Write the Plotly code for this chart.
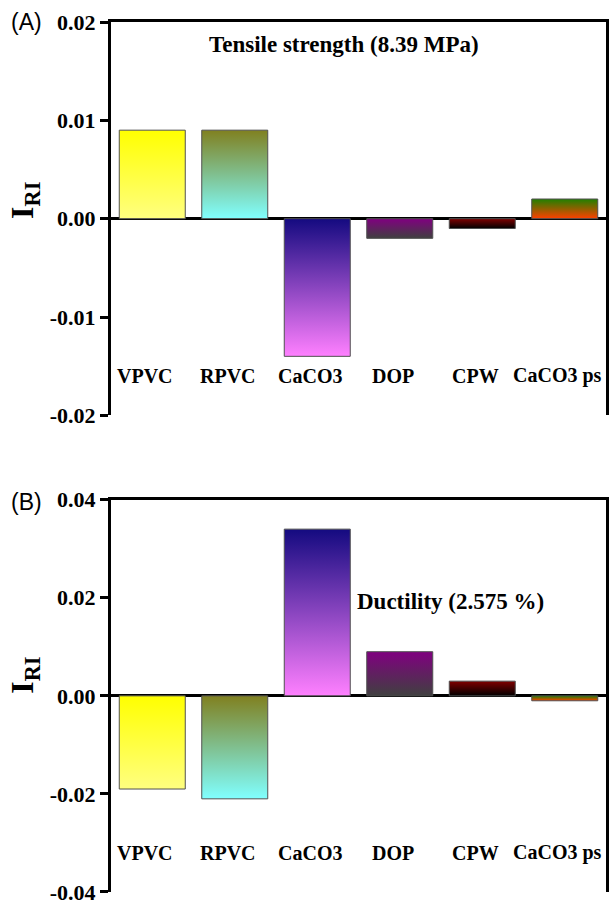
import plotly.graph_objects as go

# ---------------- data ----------------
categories = ["VPVC", "RPVC", "CaCO3", "DOP", "CPW", "CaCO3 ps"]
tensile_values = [0.009, 0.009, -0.014, -0.002, -0.001, 0.002]
ductility_values = [-0.019, -0.021, 0.034, 0.009, 0.003, -0.001]

top_colors = ["#FFFF00", "#808020", "#140A80", "#800080", "#800000", "#208000"]
bottom_colors = ["#FFFF80", "#80FFFF", "#FF80FF", "#404040", "#000000", "#FF4000"]

tensile_tickvals = [0.02, 0.01, 0.0, -0.01, -0.02]
tensile_ticktext = ["0.02", "0.01", "0.00", "-0.01", "-0.02"]
ductility_tickvals = [0.04, 0.02, 0.0, -0.02, -0.04]
ductility_ticktext = ["0.04", "0.02", "0.00", "-0.02", "-0.04"]

tensile_title = "Tensile strength (8.39 MPa)"
ductility_title = "Ductility (2.575 %)"

BAR_W = 0.8
SERIF = "Liberation Serif"
SANS = "Liberation Sans"

fig = go.Figure()


def add_bars(values, xa, ya):
    for i, v in enumerate(values):
        x0, x1 = i - BAR_W / 2, i + BAR_W / 2
        fig.add_trace(go.Scatter(
            x=[x0, x1, x1, x0, x0],
            y=[0, 0, v, v, 0],
            mode="lines",
            fill="toself",
            fillgradient=dict(type="vertical",
                              colorscale=[[0, bottom_colors[i]], [1, top_colors[i]]]),
            line=dict(color="#505050", width=1),
            xaxis=xa, yaxis=ya,
            showlegend=False,
            hoverinfo="skip",
        ))


add_bars(tensile_values, "x", "y")
add_bars(ductility_values, "x2", "y2")

axis_common_x = dict(range=[-0.5, 5.5], showgrid=False, zeroline=False,
                     showline=True, linecolor="black", linewidth=3,
                     side="top", ticks="", showticklabels=False, mirror=False)
axis_common_y = dict(showgrid=False, zeroline=True, zerolinecolor="black",
                     zerolinewidth=3, showline=True, linecolor="black",
                     linewidth=3, mirror=True, ticks="outside", ticklen=8,
                     tickwidth=3, tickcolor="black",
                     tickfont=dict(family=SERIF, size=22, color="black", weight="bold"))

fig.update_layout(
    width=611, height=907,
    margin=dict(l=111, r=2, t=22, b=9),
    paper_bgcolor="white", plot_bgcolor="white",
    xaxis=dict(domain=[0, 1], anchor="y", **axis_common_x),
    xaxis2=dict(domain=[0, 1], anchor="y2", **axis_common_x),
    yaxis=dict(domain=[0.5479, 1], anchor="x", range=[-0.02, 0.02],
               tickvals=tensile_tickvals, ticktext=tensile_ticktext, **axis_common_y),
    yaxis2=dict(domain=[0, 0.4509], anchor="x2", range=[-0.04, 0.04],
                tickvals=ductility_tickvals, ticktext=ductility_ticktext, **axis_common_y),
)

annotations = []
label_font = dict(family=SERIF, size=20, color="black", weight="bold")
# category labels inside the plots
for i, c in enumerate(categories):
    annotations.append(dict(x=i, y=-0.016, xref="x", yref="y", text=c, showarrow=False,
                            xshift=-7, font=label_font))
    annotations.append(dict(x=i, y=-0.032, xref="x2", yref="y2", text=c, showarrow=False,
                            xshift=-7, font=label_font))

# panel titles
annotations.append(dict(x=2.32, y=0.0177, xref="x", yref="y", text=tensile_title,
                        showarrow=False, font=dict(family=SERIF, size=23, color="black", weight="bold")))
annotations.append(dict(x=3.62, y=0.0192, xref="x2", yref="y2", text=ductility_title,
                        showarrow=False, font=dict(family=SERIF, size=23, color="black", weight="bold")))

# y axis titles
ytitle_font = dict(family=SERIF, size=32, color="black", weight="bold")
annotations.append(dict(x=-0.5, xshift=-86, y=0.0018, xref="x", yref="y", text="I<sub>RI</sub>",
                        textangle=-90, showarrow=False, font=ytitle_font))
annotations.append(dict(x=-0.5, xshift=-86, y=0.0041, xref="x2", yref="y2", text="I<sub>RI</sub>",
                        textangle=-90, showarrow=False, font=ytitle_font))

# panel letters (pixel positions converted to paper coords)
plot_w = 611 - 111 - 2
plot_h = 907 - 22 - 9
for txt, px, py in [("(A)", 26, 22), ("(B)", 26, 505)]:
    annotations.append(dict(x=(px - 111) / plot_w, y=(907 - 9 - py) / plot_h,
                            xref="paper", yref="paper", text=txt, showarrow=False,
                            xanchor="center", yanchor="middle",
                            font=dict(family=SANS, size=23, color="black")))

fig.update_layout(annotations=annotations)

fig.write_html("out.html",
               config={"displayModeBar": False},
               post_script="document.body.style.margin='0';document.body.style.overflow='hidden';")
